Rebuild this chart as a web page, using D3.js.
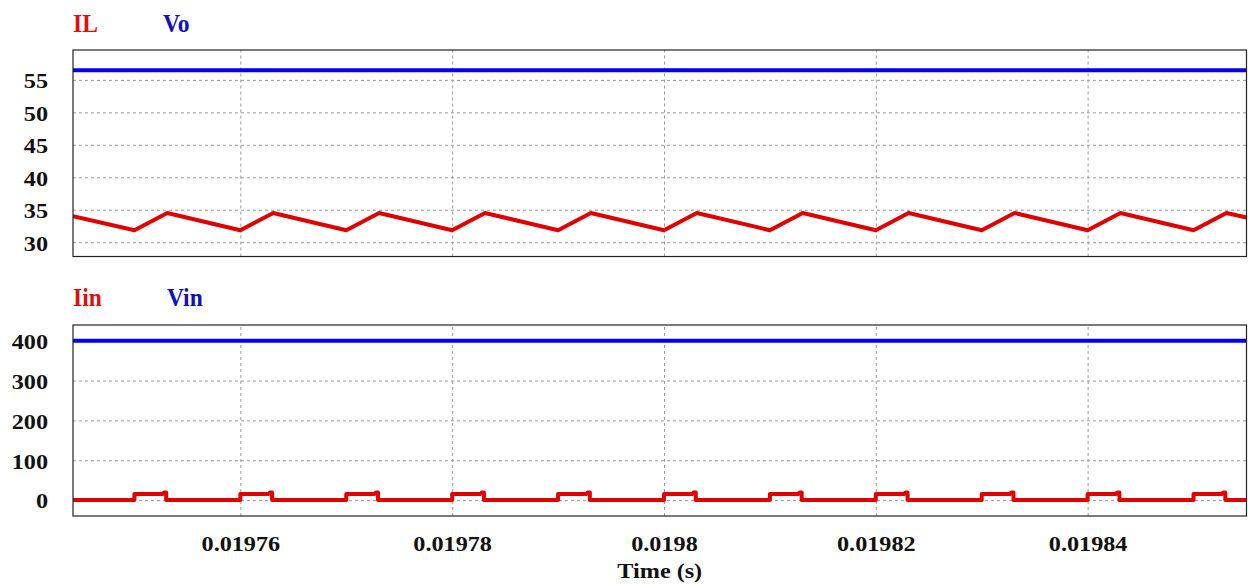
<!DOCTYPE html>
<html><head><meta charset="utf-8">
<script src="https://cdn.jsdelivr.net/npm/d3@7"></script>
<style>
html,body{margin:0;padding:0;background:#fff;}
svg{display:block;}
svg text{font-family:"Liberation Serif","Times New Roman",serif !important;font-weight:bold;}
</style></head><body>
<svg id="c" width="1248" height="585"></svg>
<script>
// ---- data ----
const xTicks = [0.01976, 0.01978, 0.0198, 0.01982, 0.01984];
const xTickLabels = ["0.01976", "0.01978", "0.0198", "0.01982", "0.01984"];
const topTicks = [30, 35, 40, 45, 50, 55];
const botTicks = [0, 100, 200, 300, 400];
const xDomain = [0.0197442, 0.019855];

const ilT = [0.0197442, 0.01975, 0.0197531, 0.01976, 0.0197631, 0.01977, 0.0197731, 0.01978, 0.0197831,
  0.01979, 0.0197931, 0.0198, 0.0198031, 0.01981, 0.0198131, 0.01982, 0.0198231, 0.01983, 0.0198331,
  0.01984, 0.0198431, 0.01985, 0.0198531, 0.019855];
const ilV = [34.0, 31.85, 34.5, 31.85, 34.5, 31.85, 34.5, 31.85, 34.5,
  31.85, 34.5, 31.85, 34.5, 31.85, 34.5, 31.85, 34.5, 31.85, 34.5,
  31.85, 34.5, 31.85, 34.5, 33.8];
const voT = [0.0197442, 0.019855];
const voV = [56.5, 56.5];
const vinT = [0.0197442, 0.019855];
const vinV = [400, 400];

const iinT = [0.0197442,
  0.01975, 0.01975, 0.0197527, 0.0197528, 0.019753, 0.019753,
  0.01976, 0.01976, 0.0197627, 0.0197628, 0.019763, 0.019763,
  0.01977, 0.01977, 0.0197727, 0.0197728, 0.019773, 0.019773,
  0.01978, 0.01978, 0.0197827, 0.0197828, 0.019783, 0.019783,
  0.01979, 0.01979, 0.0197927, 0.0197928, 0.019793, 0.019793,
  0.0198, 0.0198, 0.0198027, 0.0198028, 0.019803, 0.019803,
  0.01981, 0.01981, 0.0198127, 0.0198128, 0.019813, 0.019813,
  0.01982, 0.01982, 0.0198227, 0.0198228, 0.019823, 0.019823,
  0.01983, 0.01983, 0.0198327, 0.0198328, 0.019833, 0.019833,
  0.01984, 0.01984, 0.0198427, 0.0198428, 0.019843, 0.019843,
  0.01985, 0.01985, 0.0198527, 0.0198528, 0.019853, 0.019853,
  0.019855];
const iinV = [0,
  0, 15, 15.5, 19, 19, 0,
  0, 15, 15.5, 19, 19, 0,
  0, 15, 15.5, 19, 19, 0,
  0, 15, 15.5, 19, 19, 0,
  0, 15, 15.5, 19, 19, 0,
  0, 15, 15.5, 19, 19, 0,
  0, 15, 15.5, 19, 19, 0,
  0, 15, 15.5, 19, 19, 0,
  0, 15, 15.5, 19, 19, 0,
  0, 15, 15.5, 19, 19, 0,
  0, 15, 15.5, 19, 19, 0,
  0];

// ---- layout ----
const svg = d3.select("#c");
const L = 73, R = 1246.5;
const P1 = {top: 50, bot: 256.5, dom: [27.8, 59.6]};
const P2 = {top: 325, bot: 516, dom: [-40, 439.4]};
const RED = "#e00000", BLUE = "#0000f0";
const RED_T = "#dd1010", BLUE_T = "#1010c0";
const SERIF = '"Liberation Serif", "Times New Roman", serif';

const x = d3.scaleLinear().domain(xDomain).range([L, R]);

function panel(P, ticks, series, legend) {
  const y = d3.scaleLinear().domain(P.dom).range([P.bot, P.top]);
  const g = svg.append("g");
  const clipId = "clip" + P.top;
  svg.append("clipPath").attr("id", clipId).append("rect")
    .attr("x", L).attr("y", P.top).attr("width", R - L).attr("height", P.bot - P.top);
  // gridlines
  g.append("g").attr("transform", `translate(0,${P.bot})`)
    .call(d3.axisBottom(x).tickValues(xTicks).tickSize(-(P.bot - P.top)).tickFormat(""))
    .call(s => s.select(".domain").remove())
    .call(s => s.selectAll("line").attr("stroke", "#9a9a9a").attr("stroke-dasharray", "3,3"));
  g.append("g").attr("transform", `translate(${L},0)`)
    .call(d3.axisLeft(y).tickValues(ticks).tickSize(-(R - L)).tickFormat(""))
    .call(s => s.select(".domain").remove())
    .call(s => s.selectAll("line").attr("stroke", "#9a9a9a").attr("stroke-dasharray", "3,3"));
  // y labels
  g.append("g").attr("transform", `translate(${L},0)`)
    .call(d3.axisLeft(y).tickValues(ticks).tickSize(0).tickPadding(0).tickFormat(d3.format("d")))
    .attr("font-family", SERIF)
    .call(s => s.select(".domain").remove())
    .call(s => s.selectAll("text").attr("x", null).attr("dy", "0.36em")
      .attr("transform", "translate(-25,0) scale(1.1,1)")
      .attr("font-size", 22).attr("fill", "#111")
      .style("font-family", SERIF).style("font-weight", "bold"));
  // series
  const line = d3.line().x(d => x(d[0])).y(d => y(d[1]));
  series.forEach(s => {
    g.append("path").datum(d3.zip(s.t, s.v)).attr("d", line)
      .attr("clip-path", `url(#${clipId})`)
      .attr("fill", "none").attr("stroke", s.c).attr("stroke-width", 4)
      .attr("stroke-linejoin", "round");
  });
  // frame
  g.append("rect").attr("x", L).attr("y", P.top).attr("width", R - L).attr("height", P.bot - P.top)
    .attr("fill", "none").attr("stroke", "#222").attr("stroke-width", 1.2);
  // legend
  legend.forEach(l => {
    svg.append("text").attr("transform", `translate(${l.x},${l.y}) scale(0.98,1.05)`)
      .attr("font-size", 24).attr("fill", l.c)
      .style("font-family", SERIF).style("font-weight", "bold").text(l.t);
  });
  return y;
}

panel(P1, topTicks, [
  {t: voT, v: voV, c: BLUE},
  {t: ilT, v: ilV, c: RED}
], [{t: "IL", x: 73, y: 32, c: RED_T}, {t: "Vo", x: 163, y: 32, c: BLUE_T}]);

panel(P2, botTicks, [
  {t: vinT, v: vinV, c: BLUE},
  {t: iinT, v: iinV, c: RED}
], [{t: "Iin", x: 73, y: 306, c: RED_T}, {t: "Vin", x: 167, y: 306, c: BLUE_T}]);

// x axis labels
svg.append("g").attr("transform", `translate(0,${P2.bot})`)
  .call(d3.axisBottom(x).tickValues(xTicks).tickSize(0).tickPadding(0)
    .tickFormat((d, i) => xTickLabels[i]))
  .attr("font-family", SERIF)
  .call(s => s.select(".domain").remove())
  .call(s => s.selectAll("text").attr("y", null).attr("dy", null)
    .attr("transform", "translate(0,35) scale(1.1,1)")
    .attr("font-size", 22).attr("fill", "#111")
    .style("font-family", SERIF).style("font-weight", "bold"));

svg.append("text").attr("transform", `translate(${(L + R) / 2},578) scale(1.1,1)`)
  .attr("text-anchor", "middle").attr("font-size", 22).attr("fill", "#111")
  .style("font-family", SERIF).style("font-weight", "bold").text("Time (s)");
</script>
</body></html>
